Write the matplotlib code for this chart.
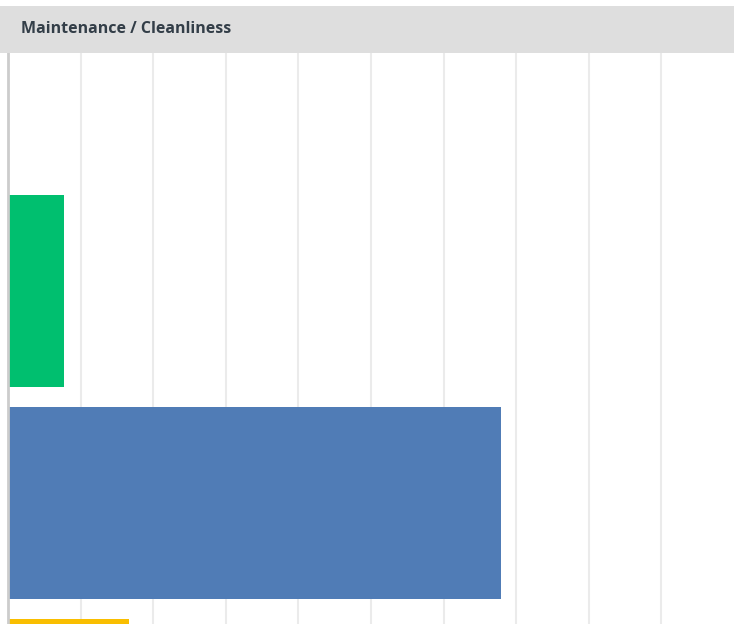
import matplotlib
matplotlib.use("Agg")
import matplotlib.pyplot as plt
from matplotlib.patches import Rectangle

# answer shares (%) for each rating row, top to bottom
categories = ["Very satisfied", "Satisfied", "Neutral", "Dissatisfied"]
shares = [0.0, 7.7, 67.9, 16.7]
colors = ["#6bc8cd", "#00bf6f", "#507cb6", "#f9be00"]
title = "Maintenance / Cleanliness"

W, H = 734, 624
fig = plt.figure(figsize=(W / 100, H / 100), dpi=100)
fig.patch.set_facecolor("white")

# grey header strip with the question title
fig.patches.append(Rectangle((0, 1 - 53 / H), 1, 47 / H, transform=fig.transFigure,
                             facecolor="#dedede", edgecolor="none", zorder=0))
fig.text(21 / W, 1 - 29 / H, title, fontsize=11.5, fontweight="bold",
         family=["Open Sans", "DejaVu Sans"], color="#333e48", va="center")

ax = fig.add_axes([8 / W, 0, 1 - 8 / W, 1 - 53 / H])
ax.barh(range(len(categories)), shares, height=192 / 212, color=colors, zorder=2)

top = -26 / 212
ax.set_ylim(top + 571 / 212, top)
ax.set_xlim(0, 100)
ax.set_xticks(range(0, 100, 10))
ax.grid(axis="x", color="#ebebeb", linewidth=1.5, zorder=0)
ax.tick_params(left=False, bottom=False, labelleft=False, labelbottom=False)
for side in ["top", "right", "bottom"]:
    ax.spines[side].set_visible(False)
ax.spines["left"].set_color("#cccccc")
ax.spines["left"].set_linewidth(2)

fig.savefig("out.png", dpi=100)
